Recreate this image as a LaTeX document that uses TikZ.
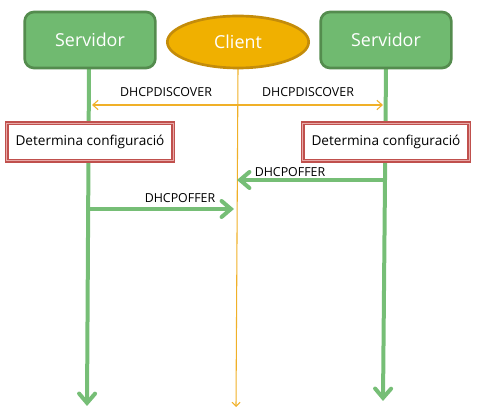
\documentclass[tikz,border=0pt]{standalone}
\usepackage{fontspec}
\setmainfont{Open Sans}
\usetikzlibrary{arrows.meta,shapes.geometric}
\definecolor{srvfill}{RGB}{112,186,112}
\definecolor{srvdraw}{RGB}{84,140,78}
\definecolor{cliefill}{RGB}{240,176,0}
\definecolor{cliedraw}{RGB}{196,140,10}
\definecolor{lifegreen}{RGB}{118,190,118}
\definecolor{detred}{RGB}{192,80,77}
\definecolor{detpink}{RGB}{232,170,168}
\definecolor{orangeline}{RGB}{240,176,40}
\tikzset{
  srvbox/.style={draw=srvdraw, fill=srvfill, line width=2pt, rounded corners=7pt,
    minimum width=98pt, minimum height=42pt, inner sep=0pt, text=white, font=\fontsize{13.4}{16}\selectfont},
  cliebox/.style={ellipse, draw=cliedraw, fill=cliefill, line width=2pt,
    minimum width=106pt, minimum height=39pt, inner sep=0pt, text=white, font=\fontsize{13.4}{16}\selectfont},
  detbox/.style={draw=detred, double=detpink, double distance=0.6pt, line width=1.2pt, fill=white,
    minimum width=125pt, minimum height=28pt, inner sep=0pt, font=\fontsize{10.2}{12}\selectfont},
  lifeline/.style={draw=lifegreen, line width=3pt, -{Straight Barb[length=7pt,width=12pt,line width=3pt,line cap=round]}},
  msggreen/.style={draw=lifegreen, line width=3pt, -{Straight Barb[length=7pt,width=12pt,line width=3pt,line cap=round]}},
  clieline/.style={draw=orangeline, line width=0.8pt, -{Straight Barb[length=3pt,width=6pt]}},
  msgorange/.style={draw=orangeline, line width=0.8pt, -{Straight Barb[length=4pt,width=7pt]}},
  lbl/.style={font=\fontsize{9.3}{11}\selectfont, inner sep=0pt},
}
\begin{document}
\begin{tikzpicture}[x=0.75pt,y=-0.75pt]
\useasboundingbox (0,0) rectangle (479,416);
% lifeline endpoints
\coordinate (s1top) at (89,69);
\coordinate (s2top) at (386,69);
\coordinate (s1end) at (87,406);
\coordinate (s2end) at (383,401);
\coordinate (ctop) at (238,69);
\coordinate (cend) at (236,407);
% lifelines
\draw[lifeline] (s1top) -- (s1end);
\draw[lifeline] (s2top) -- (s2end);
\draw[clieline] (ctop) -- (cend);
% header nodes
\node[srvbox] (s1) at (90,40) {Servidor};
\node[srvbox] (s2) at (386,40) {Servidor};
\node[cliebox] (c) at (238,42) {Client};
% determina boxes
\node[detbox] (d1) at (90,142) {Determina configuració};
\node[detbox] (d2) at (386,142) {Determina configuració};
% discover
\coordinate (cd) at (238,105);
\coordinate (s1d) at (92,105);
\coordinate (s2d) at (383,105);
\draw[msgorange] (cd) -- (s1d);
\draw[msgorange] (cd) -- (s2d);
\node[lbl] (l1) at (166,92) {DHCPDISCOVER};
\node[lbl] (l2) at (308,92) {DHCPDISCOVER};
% offers
\coordinate (s2o) at (386,180);
\coordinate (co2) at (237,180);
\draw[msggreen] (s2o) -- (co2);
\node[lbl] (l3) at (290,172) {DHCPOFFER};
\coordinate (s1o) at (89,209);
\coordinate (co1) at (234,209);
\draw[msggreen] (s1o) -- (co1);
\node[lbl] (l4) at (180,198) {DHCPOFFER};
\end{tikzpicture}
\end{document}
